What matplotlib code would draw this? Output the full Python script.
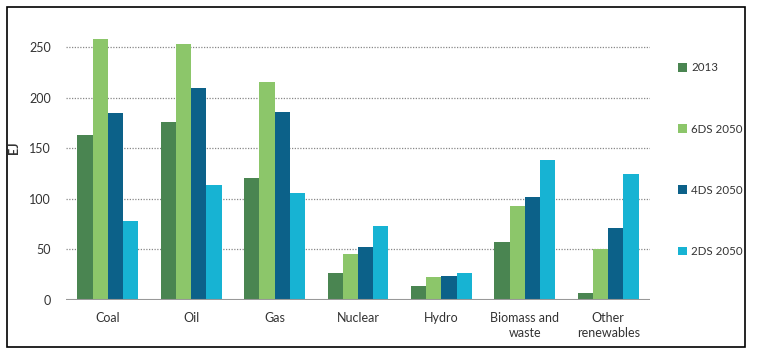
import numpy as np
import matplotlib.pyplot as plt
from matplotlib.patches import Rectangle

plt.rcParams['font.family'] = ['Lato', 'DejaVu Sans']

categories = ['Coal', 'Oil', 'Gas', 'Nuclear', 'Hydro', 'Biomass and\nwaste', 'Other\nrenewables']
series_names = ['2013', '6DS 2050', '4DS 2050', '2DS 2050']
v_2013 = [163, 176, 121, 27, 14, 57.5, 6.5]
v_6ds = [258.5, 253.5, 216, 45, 22.5, 93, 50]
v_4ds = [185, 210, 185.5, 52.5, 24, 102, 71.5]
v_2ds = [78, 114, 106, 73.5, 27, 138, 125]
colors = ['#4a8551', '#8cc66a', '#0c6189', '#17b3d3']

values = [v_2013, v_6ds, v_4ds, v_2ds]

fig = plt.figure(figsize=(7.68, 3.64), dpi=100)
ax = fig.add_axes([66/768, 1 - 300/364, (650-66)/768, 268/364])

x = np.arange(len(categories))
w = 0.182
for i, (vals, name, col) in enumerate(zip(values, series_names, colors)):
    ax.bar(x + (i - 1.5) * w, vals, width=w, color=col, label=name, zorder=3)

ax.set_xlim(-0.5, len(categories) - 0.5)
ax.set_ylim(0, 265)
ax.set_yticks([0, 50, 100, 150, 200, 250])
ax.set_xticks(x)
ax.set_xticklabels(categories, fontsize=9, color='#333333', linespacing=1.25)
ax.tick_params(axis='both', length=0, labelsize=9, colors='#333333')
ax.tick_params(axis='x', pad=9)
ax.tick_params(axis='y', pad=11)
for yv in [50, 100, 150, 200, 250]:
    ax.axhline(yv, color='#888888', lw=0.9, ls=(0, (1, 1.2)), zorder=1)
ax.axhline(0, color='#999999', lw=1.5, zorder=4)
for s in ax.spines.values():
    s.set_visible(False)
ax.set_ylabel('EJ', fontsize=9, fontweight='bold', color='#333333')
ax.yaxis.set_label_coords(-0.078, 0.567)

leg = fig.legend(loc='upper left', bbox_to_anchor=(668/768, 1 - 52/364), frameon=False,
                 fontsize=8.3, handlelength=0.75, handleheight=0.75, handletextpad=0.35,
                 labelspacing=4.35, labelcolor='#333333')

fig.patches.append(Rectangle((7/768, 1 - 347/364), (745-7)/768, (347-7)/364,
                             transform=fig.transFigure, fill=False, ec='black', lw=1.2))

fig.savefig('out.png', dpi=100)
